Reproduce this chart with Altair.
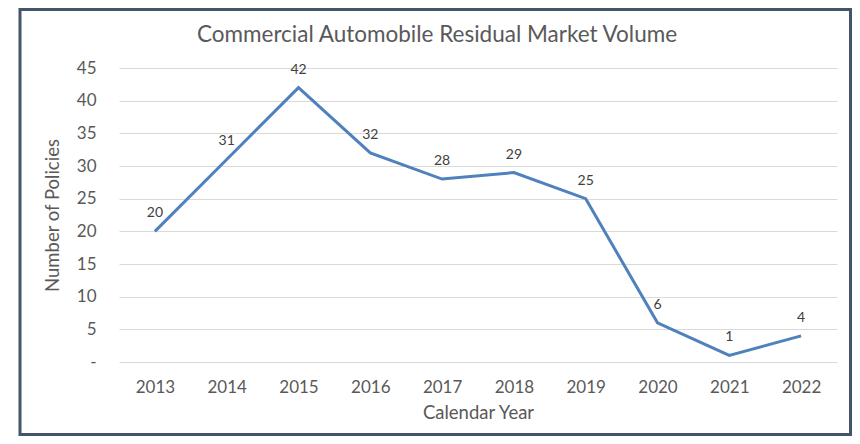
import altair as alt
import pandas as pd

years = ["2013", "2014", "2015", "2016", "2017", "2018", "2019", "2020", "2021", "2022"]
policies = [20, 31, 42, 32, 28, 29, 25, 6, 1, 4]
y_ticks = [0, 5, 10, 15, 20, 25, 30, 35, 40, 45]
title_text = "Commercial Automobile Residual Market Volume"

df = pd.DataFrame({"year": years, "policies": policies})
one = pd.DataFrame({"t": [title_text]})

FONT = "Lato"
GRAY = "#595959"

x = alt.X("year:N", sort=years, scale=alt.Scale(type="point", padding=0.5),
          axis=alt.Axis(title="Calendar Year", labelAngle=0, ticks=False, domain=False,
                        labelPadding=17, titlePadding=8, labelFontSize=17, titleFontSize=18.5,
                        labelColor=GRAY, titleColor=GRAY, labelFont=FONT, titleFont=FONT,
                        titleFontWeight="normal", grid=False))
y = alt.Y("policies:Q", scale=alt.Scale(domain=[0, 45], nice=False, zero=True),
          axis=alt.Axis(title="Number of Policies", values=y_ticks, tickCount=10, ticks=False,
                        domain=False, labelOverlap=False,
                        labelExpr="datum.value == 0 ? '-' : datum.value",
                        labelPadding=23, titlePadding=14, labelFontSize=17, titleFontSize=18.5,
                        labelColor=GRAY, titleColor=GRAY, labelFont=FONT, titleFont=FONT,
                        titleFontWeight="normal", grid=True, gridColor="#D9D9D9", gridWidth=1))

line = alt.Chart(df).mark_line(color="#4F81BD", strokeWidth=3).encode(x=x, y=y)
labels = alt.Chart(df).mark_text(dy=-18, fontSize=14, color="#404040", font=FONT,
                                 fontWeight="normal").encode(x=x, y=y, text="policies:Q")

title = alt.Chart(one).mark_text(fontSize=22.5, color=GRAY, font=FONT, fontWeight="normal",
                                 baseline="middle", align="center").encode(
    x=alt.value(318), y=alt.value(-33), text="t:N")

border = alt.Chart(one).mark_rect(filled=False, stroke="#44546A", strokeWidth=3, clip=False).encode(
    x=alt.value(-99), x2=alt.value(731.5), y=alt.value(-58.5), y2=alt.value(366.5))

chart = alt.layer(line, labels, title, border).properties(
    width=718, height=294,
    autosize=alt.AutoSizeParams(type="none"),
    padding={"left": 111, "top": 60, "right": 15, "bottom": 74},
).configure_view(stroke=None)

chart.save("out.html", embed_options={"renderer": "svg", "actions": False})
